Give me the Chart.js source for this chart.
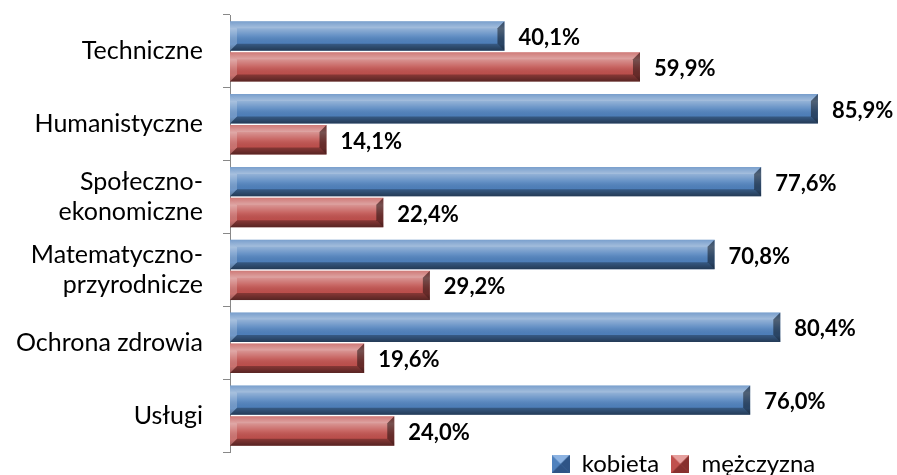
<!DOCTYPE html>
<html>
<head>
<meta charset="utf-8">
<script src="https://cdn.jsdelivr.net/npm/chart.js@4"></script>
<style>
  html, body { margin: 0; padding: 0; background: #fff; }
  #wrap { width: 897px; height: 475px; }
</style>
</head>
<body>
<div id="wrap"><canvas id="chart" width="897" height="475"></canvas></div>
<script>
const categories = [
  "Techniczne",
  "Humanistyczne",
  ["Społeczno-", "ekonomiczne"],
  ["Matematyczno-", "przyrodnicze"],
  "Ochrona zdrowia",
  "Usługi"
];
const kobieta = [40.1, 85.9, 77.6, 70.8, 80.4, 76.0];
const mezczyzna = [59.9, 14.1, 22.4, 29.2, 19.6, 24.0];

const FONT = "Lato, 'Open Sans', sans-serif";

// small bevelled square for the legend
function legendBox(base, light, dark) {
  const s = 18;
  const c = document.createElement("canvas");
  c.width = s; c.height = s;
  const g = c.getContext("2d");
  g.fillStyle = base; g.fillRect(0, 0, s, s);
  const tri = (col, pts) => {
    g.fillStyle = col;
    g.beginPath(); g.moveTo(pts[0], pts[1]); g.lineTo(pts[2], pts[3]); g.lineTo(s / 2, s / 2); g.closePath(); g.fill();
  };
  tri(light, [0, 0, s, 0]);
  tri(dark, [0, s, s, s]);
  tri(dark, [s, 0, s, s]);
  return c;
}

// bevel shading over each bar + value labels
const bevel = {
  id: "bevel",
  afterDatasetDraw(chart, args) {
    const ctx = chart.ctx;
    const meta = args.meta;
    const ds = chart.data.datasets[args.index];
    meta.data.forEach((bar, i) => {
      const p = bar.getProps(["x", "y", "base", "height"], true);
      const top = p.y - p.height / 2, bot = p.y + p.height / 2;
      const left = p.base, right = p.x;
      const e = Math.min(7, p.height / 3);
      ctx.save();
      const grad = ctx.createLinearGradient(0, top, 0, bot);
      grad.addColorStop(0, "rgba(255,255,255,0.05)");
      grad.addColorStop(0.25, "rgba(255,255,255,0.38)");
      grad.addColorStop(0.5, "rgba(255,255,255,0.12)");
      grad.addColorStop(0.78, "rgba(0,0,0,0.02)");
      grad.addColorStop(1, "rgba(0,0,0,0.35)");
      ctx.fillStyle = grad;
      ctx.fillRect(left, top, right - left, bot - top);
      // top edge
      ctx.fillStyle = "rgba(255,255,255,0.2)";
      ctx.beginPath();
      ctx.moveTo(left, top); ctx.lineTo(right, top);
      ctx.lineTo(right - e, top + e); ctx.lineTo(left + e, top + e); ctx.closePath(); ctx.fill();
      // bottom edge
      ctx.fillStyle = "rgba(0,0,0,0.3)";
      ctx.beginPath();
      ctx.moveTo(left, bot); ctx.lineTo(right, bot);
      ctx.lineTo(right - e, bot - e); ctx.lineTo(left + e, bot - e); ctx.closePath(); ctx.fill();
      // left edge
      ctx.fillStyle = "rgba(255,255,255,0.2)";
      ctx.beginPath();
      ctx.moveTo(left, top); ctx.lineTo(left + e, top + e);
      ctx.lineTo(left + e, bot - e); ctx.lineTo(left, bot); ctx.closePath(); ctx.fill();
      // right edge
      ctx.fillStyle = "rgba(0,0,0,0.45)";
      ctx.beginPath();
      ctx.moveTo(right, top); ctx.lineTo(right - e, top + e);
      ctx.lineTo(right - e, bot - e); ctx.lineTo(right, bot); ctx.closePath(); ctx.fill();

      // value label
      ctx.fillStyle = "#000";
      ctx.font = "bold 22px " + FONT;
      ctx.textAlign = "left";
      ctx.textBaseline = "middle";
      ctx.fillText(ds.data[i].toFixed(1).replace(".", ",") + "%", right + 14, p.y + 2);
      ctx.restore();
    });
  }
};

const legendPad = ["  ", "     "];

new Chart(document.getElementById("chart").getContext("2d"), {
  type: "bar",
  data: {
    labels: categories,
    datasets: [
      {
        label: "kobieta",
        data: kobieta,
        backgroundColor: "#4f81bd",
        pointStyle: legendBox("#4f81bd", "#8db3e2", "#2f5486")
      },
      {
        label: "mężczyzna",
        data: mezczyzna,
        backgroundColor: "#c0504d",
        pointStyle: legendBox("#c0504d", "#e6a09e", "#87302e")
      }
    ]
  },
  options: {
    indexAxis: "y",
    responsive: false,
    animation: false,
    barPercentage: 0.95,
    categoryPercentage: 0.85,
    layout: { padding: { top: 15, right: 51, left: 0, bottom: -11 } },
    scales: {
      x: { display: false, min: 0, max: 90 },
      y: {
        afterFit(scale) {
          scale.width = 230;
          scale.paddingTop = 0;
          scale.paddingBottom = 0;
        },
        grid: {
          drawOnChartArea: false,
          drawTicks: true,
          tickLength: 7,
          color: "#888",
          offset: true
        },
        border: { display: true, color: "#888", width: 1 },
        ticks: {
          color: "#000",
          font: { family: FONT, size: 25, lineHeight: 1.2 },
          padding: 20
        }
      }
    },
    plugins: {
      tooltip: { enabled: false },
      legend: {
        position: "bottom",
        align: "end",
        labels: {
          usePointStyle: true,
          color: "#000",
          font: { family: FONT, size: 24, lineHeight: 1 },
          padding: 0,
          boxWidth: 18,
          boxHeight: 18,
          generateLabels(chart) {
            const items = Chart.defaults.plugins.legend.labels.generateLabels(chart);
            items.forEach((it, i) => { it.text = it.text + legendPad[i]; });
            return items;
          }
        }
      }
    }
  },
  plugins: [bevel]
});
</script>
</body>
</html>
